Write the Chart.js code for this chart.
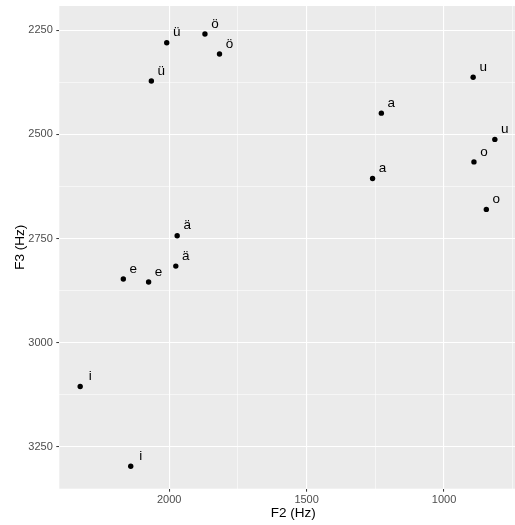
<!DOCTYPE html>
<html>
<head>
<meta charset="utf-8">
<script src="https://cdn.jsdelivr.net/npm/chart.js@4"></script>
<style>
  html, body { margin: 0; padding: 0; background: #fff; overflow: hidden; }
  #wrap { width: 530px; height: 525px; }
</style>
</head>
<body>
<div id="wrap"><canvas id="Chart" width="530" height="525"></canvas></div>
<script>
// vowel formants
const vowels = ['ü', 'ö', 'ö', 'ü', 'u', 'a', 'u', 'o', 'a', 'o', 'ä', 'ä', 'e', 'e', 'i', 'i'];
const f2 = [2009, 1870, 1817, 2065, 894, 1228, 815, 891, 1260, 846, 1971, 1976, 2167, 2075, 2324, 2140];
const f3 = [2280, 2259, 2307, 2372, 2363, 2449, 2512, 2566, 2606, 2680, 2743, 2816, 2847, 2854, 3105, 3296];

const xTicks = [2000, 1750, 1500, 1250, 1000, 750];
const xMajor = [2000, 1500, 1000];
const yTicks = [2250, 2375, 2500, 2625, 2750, 2875, 3000, 3125, 3250];
const yMajor = [2250, 2500, 2750, 3000, 3250];

const fontFam = '"Liberation Sans", Arial, sans-serif';

const panelBg = {
  id: 'panelBg',
  beforeDraw(chart) {
    const {ctx, chartArea: a} = chart;
    ctx.save();
    ctx.fillStyle = '#EBEBEB';
    ctx.fillRect(a.left, a.top, a.right - a.left, a.bottom - a.top);
    ctx.restore();
  }
};

const pointLabels = {
  id: 'pointLabels',
  afterDatasetsDraw(chart) {
    const ctx = chart.ctx;
    const xs = chart.scales.x, ys = chart.scales.y;
    ctx.save();
    ctx.font = '13.5px ' + fontFam;
    ctx.fillStyle = '#000';
    ctx.textAlign = 'center';
    ctx.textBaseline = 'middle';
    for (let i = 0; i < vowels.length; i++) {
      const px = xs.getPixelForValue(f2[i]);
      const py = ys.getPixelForValue(f3[i]);
      ctx.fillText(vowels[i], px + 10, py - 10);
    }
    ctx.restore();
  }
};

function gridOpts(major) {
  return {
    color: '#FFFFFF',
    lineWidth: (c) => major.includes(c.tick.value) ? 1.1 : 0.55,
    drawTicks: true,
    tickLength: 3,
    tickWidth: 1,
    tickColor: (c) => major.includes(c.tick.value) ? '#333333' : 'rgba(0,0,0,0)'
  };
}

const ctx = document.getElementById('Chart');
new Chart(ctx, {
  type: 'scatter',
  data: {
    datasets: [{
      data: f2.map((v, i) => ({x: v, y: f3[i]})),
      backgroundColor: '#000',
      borderWidth: 0,
      pointRadius: 2.7,
      pointHoverRadius: 2.7
    }]
  },
  options: {
    responsive: false,
    animation: false,
    layout: { padding: { top: 6, right: 3, left: 0, bottom: 0 } },
    plugins: { legend: { display: false }, tooltip: { enabled: false } },
    scales: {
      x: {
        type: 'linear',
        reverse: true,
        min: 698,
        max: 2400,
        afterBuildTicks: (s) => { s.ticks = xTicks.map(v => ({value: v})); },
        afterFit: (s) => { s.height = 36.3; s.paddingLeft = 0; s.paddingRight = 0; },
        border: { display: false },
        grid: gridOpts(xMajor),
        ticks: {
          autoSkip: false,
          maxRotation: 0,
          padding: 2,
          color: '#4D4D4D',
          font: { family: fontFam, size: 11 },
          callback: (v) => xMajor.includes(v) ? String(v) : ''
        },
        title: {
          display: true,
          text: 'F2 (Hz)',
          color: '#000',
          font: { family: fontFam, size: 13.5 },
          padding: { top: 0, bottom: 4 }
        }
      },
      y: {
        type: 'linear',
        reverse: true,
        min: 2192,
        max: 3350,
        afterBuildTicks: (s) => { s.ticks = yTicks.map(v => ({value: v})); },
        afterFit: (s) => { s.width = 59.3; s.paddingTop = 0; s.paddingBottom = 0; },
        border: { display: false },
        grid: gridOpts(yMajor),
        ticks: {
          autoSkip: false,
          padding: 3.5,
          color: '#4D4D4D',
          font: { family: fontFam, size: 11 },
          callback: (v) => yMajor.includes(v) ? String(v) : ''
        },
        title: {
          display: true,
          text: 'F3 (Hz)',
          color: '#000',
          font: { family: fontFam, size: 13.5 },
          padding: { top: 12, bottom: 0 }
        }
      }
    }
  },
  plugins: [panelBg, pointLabels]
});
</script>
</body>
</html>
